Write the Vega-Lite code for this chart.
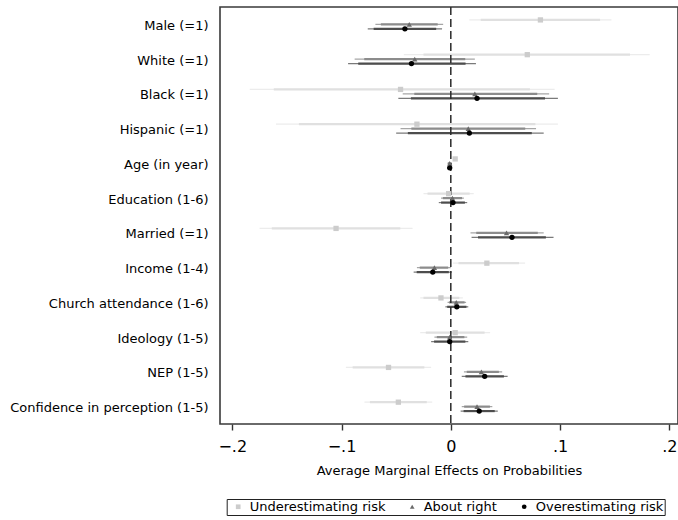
{
  "$schema": "https://vega.github.io/schema/vega-lite/v6.json",
  "width": 458,
  "height": 417,
  "autosize": "none",
  "padding": {"left": 220, "top": 7, "right": 0, "bottom": 96},
  "background": "white",
  "config": {
    "view": {"stroke": "#3a3a3a", "strokeWidth": 1.6},
    "font": "DejaVu Sans",
    "legend": {
      "orient": "none",
      "legendX": 6.7,
      "legendY": 492,
      "direction": "horizontal",
      "title": null,
      "strokeColor": "#222",
      "fillColor": "white",
      "padding": 1,
      "labelFont": "DejaVu Sans",
      "labelFontSize": 13,
      "labelColor": "#000",
      "symbolSize": 22,
      "symbolStrokeWidth": 0,
      "symbolOffset": 4,
      "labelOffset": 5,
      "columnPadding": 16
    }
  },
  "data": {
    "values": [
      {"var": "Male (=1)", "series": "Underestimating risk", "est": 0.082, "lo95": 0.017, "hi95": 0.147, "lo90": 0.0274, "hi90": 0.1366},
      {"var": "Male (=1)", "series": "About right", "est": -0.038, "lo95": -0.069, "hi95": -0.007, "lo90": -0.064, "hi90": -0.012},
      {"var": "Male (=1)", "series": "Overestimating risk", "est": -0.042, "lo95": -0.076, "hi95": -0.008, "lo90": -0.0706, "hi90": -0.0134},
      {"var": "White (=1)", "series": "Underestimating risk", "est": 0.070, "lo95": -0.043, "hi95": 0.182, "lo90": -0.025, "hi90": 0.164},
      {"var": "White (=1)", "series": "About right", "est": -0.033, "lo95": -0.088, "hi95": 0.022, "lo90": -0.0792, "hi90": 0.0132},
      {"var": "White (=1)", "series": "Overestimating risk", "est": -0.036, "lo95": -0.094, "hi95": 0.023, "lo90": -0.0847, "hi90": 0.0135},
      {"var": "Black (=1)", "series": "Underestimating risk", "est": -0.046, "lo95": -0.184, "hi95": 0.095, "lo90": -0.162, "hi90": 0.0724},
      {"var": "Black (=1)", "series": "About right", "est": 0.022, "lo95": -0.044, "hi95": 0.090, "lo90": -0.0334, "hi90": 0.0791},
      {"var": "Black (=1)", "series": "Overestimating risk", "est": 0.024, "lo95": -0.048, "hi95": 0.098, "lo90": -0.0365, "hi90": 0.0862},
      {"var": "Hispanic (=1)", "series": "Underestimating risk", "est": -0.031, "lo95": -0.160, "hi95": 0.098, "lo90": -0.139, "hi90": 0.0774},
      {"var": "Hispanic (=1)", "series": "About right", "est": 0.016, "lo95": -0.046, "hi95": 0.078, "lo90": -0.0361, "hi90": 0.0681},
      {"var": "Hispanic (=1)", "series": "Overestimating risk", "est": 0.017, "lo95": -0.050, "hi95": 0.085, "lo90": -0.0393, "hi90": 0.0741},
      {"var": "Age (in year)", "series": "Underestimating risk", "est": 0.004, "lo95": 0.002, "hi95": 0.006, "lo90": 0.0023, "hi90": 0.0057},
      {"var": "Age (in year)", "series": "About right", "est": -0.001, "lo95": -0.003, "hi95": 0.001, "lo90": -0.0027, "hi90": 0.0007},
      {"var": "Age (in year)", "series": "Overestimating risk", "est": -0.001, "lo95": -0.003, "hi95": 0.001, "lo90": -0.0027, "hi90": 0.0007},
      {"var": "Education (1-6)", "series": "Underestimating risk", "est": -0.002, "lo95": -0.025, "hi95": 0.021, "lo90": -0.0213, "hi90": 0.0173},
      {"var": "Education (1-6)", "series": "About right", "est": 0.0015, "lo95": -0.009, "hi95": 0.012, "lo90": -0.0073, "hi90": 0.0103},
      {"var": "Education (1-6)", "series": "Overestimating risk", "est": 0.002, "lo95": -0.011, "hi95": 0.015, "lo90": -0.0089, "hi90": 0.0129},
      {"var": "Married (=1)", "series": "Underestimating risk", "est": -0.105, "lo95": -0.175, "hi95": -0.035, "lo90": -0.1638, "hi90": -0.0462},
      {"var": "Married (=1)", "series": "About right", "est": 0.051, "lo95": 0.018, "hi95": 0.085, "lo90": 0.0233, "hi90": 0.0796},
      {"var": "Married (=1)", "series": "Overestimating risk", "est": 0.056, "lo95": 0.019, "hi95": 0.094, "lo90": 0.0249, "hi90": 0.087},
      {"var": "Income (1-4)", "series": "Underestimating risk", "est": 0.033, "lo95": 0.002, "hi95": 0.068, "lo90": 0.007, "hi90": 0.0624},
      {"var": "Income (1-4)", "series": "About right", "est": -0.015, "lo95": -0.031, "hi95": 0.000, "lo90": -0.0284, "hi90": -0.0024},
      {"var": "Income (1-4)", "series": "Overestimating risk", "est": -0.0165, "lo95": -0.034, "hi95": 0.001, "lo90": -0.0312, "hi90": -0.0018},
      {"var": "Church attendance (1-6)", "series": "Underestimating risk", "est": -0.009, "lo95": -0.028, "hi95": 0.011, "lo90": -0.025, "hi90": 0.0078},
      {"var": "Church attendance (1-6)", "series": "About right", "est": 0.005, "lo95": -0.003, "hi95": 0.014, "lo90": -0.0017, "hi90": 0.0126},
      {"var": "Church attendance (1-6)", "series": "Overestimating risk", "est": 0.0055, "lo95": -0.005, "hi95": 0.016, "lo90": -0.0033, "hi90": 0.0143},
      {"var": "Ideology (1-5)", "series": "Underestimating risk", "est": 0.004, "lo95": -0.028, "hi95": 0.036, "lo90": -0.0229, "hi90": 0.0309},
      {"var": "Ideology (1-5)", "series": "About right", "est": -0.001, "lo95": -0.015, "hi95": 0.015, "lo90": -0.0128, "hi90": 0.0124},
      {"var": "Ideology (1-5)", "series": "Overestimating risk", "est": -0.001, "lo95": -0.018, "hi95": 0.016, "lo90": -0.0153, "hi90": 0.0133},
      {"var": "NEP (1-5)", "series": "Underestimating risk", "est": -0.057, "lo95": -0.096, "hi95": -0.018, "lo90": -0.0898, "hi90": -0.0242},
      {"var": "NEP (1-5)", "series": "About right", "est": 0.028, "lo95": 0.012, "hi95": 0.047, "lo90": 0.0146, "hi90": 0.044},
      {"var": "NEP (1-5)", "series": "Overestimating risk", "est": 0.031, "lo95": 0.010, "hi95": 0.052, "lo90": 0.0134, "hi90": 0.0486},
      {"var": "Confidence in perception (1-5)", "series": "Underestimating risk", "est": -0.048, "lo95": -0.079, "hi95": -0.017, "lo90": -0.074, "hi90": -0.022},
      {"var": "Confidence in perception (1-5)", "series": "About right", "est": 0.024, "lo95": 0.010, "hi95": 0.038, "lo90": 0.0122, "hi90": 0.0358},
      {"var": "Confidence in perception (1-5)", "series": "Overestimating risk", "est": 0.026, "lo95": 0.009, "hi95": 0.043, "lo90": 0.0117, "hi90": 0.0402}
    ]
  },
  "encoding": {
    "y": {
      "field": "var",
      "type": "nominal",
      "sort": null,
      "scale": {"type": "band", "paddingInner": 0, "paddingOuter": 0},
      "axis": {
        "title": null,
        "domain": false,
        "ticks": false,
        "labelFont": "DejaVu Sans",
        "labelFontSize": 13,
        "labelColor": "#000",
        "labelPadding": 12,
        "labelOffset": 1.5,
        "labelLimit": 300
      }
    },
    "yOffset": {
      "field": "series",
      "type": "nominal",
      "scale": {"domain": ["Underestimating risk", "About right", "Overestimating risk"], "range": [10.7, 24.05], "paddingInner": 0, "paddingOuter": 0}
    }
  },
  "layer": [
    {
      "mark": {"type": "rule", "strokeWidth": 1.2},
      "encoding": {
        "x": {
          "field": "lo95",
          "type": "quantitative",
          "scale": {"domain": [-0.2112, 0.2079], "nice": false, "zero": false},
          "axis": {
            "values": [-0.2, -0.1, 0, 0.1, 0.2],
            "labelExpr": "datum.value == 0 ? '0' : replace(format(datum.value, '.1f'), '0.', '.')",
            "grid": false,
            "domain": false,
            "tickSize": 6,
            "tickColor": "#333",
            "tickWidth": 1.4,
            "labelFont": "DejaVu Sans",
            "labelFontSize": 16,
            "labelColor": "#000",
            "labelBaseline": "alphabetic",
            "labelPadding": 21.7,
            "labelFlush": false,
            "title": "Average Marginal Effects on Probabilities",
            "titleFont": "DejaVu Sans",
            "titleFontSize": 13,
            "titleFontWeight": "normal",
            "titleColor": "#000",
            "titleBaseline": "alphabetic",
            "titleY": 50.3
          }
        },
        "x2": {"field": "hi95"},
        "stroke": {
          "field": "series",
          "type": "nominal",
          "scale": {"domain": ["Underestimating risk", "About right", "Overestimating risk"], "range": ["#ececec", "#a6a6a6", "#7a7a7a"]},
          "legend": null
        }
      }
    },
    {
      "mark": {"type": "rule", "strokeWidth": 2.2},
      "encoding": {
        "x": {"field": "lo90", "type": "quantitative"},
        "x2": {"field": "hi90"},
        "stroke": {
          "field": "series",
          "type": "nominal",
          "scale": {"domain": ["Underestimating risk", "About right", "Overestimating risk"], "range": ["#e0e0e0", "#8c8c8c", "#4d4d4d"]},
          "legend": null
        }
      }
    },
    {
      "data": {"values": [{"ref": 0}]},
      "mark": {"type": "rule", "color": "#2a2a2a", "strokeWidth": 1.5, "strokeDash": [8, 4]},
      "encoding": {
        "x": {"field": "ref", "type": "quantitative"},
        "y": null,
        "yOffset": null
      }
    },
    {
      "mark": {"type": "point", "filled": true, "opacity": 1, "strokeWidth": 0, "size": 28},
      "encoding": {
        "x": {"field": "est", "type": "quantitative"},
        "color": {
          "field": "series",
          "type": "nominal",
          "scale": {"domain": ["Underestimating risk", "About right", "Overestimating risk"], "range": ["#cccccc", "#6a6a6a", "#000000"]}
        },
        "shape": {
          "field": "series",
          "type": "nominal",
          "scale": {"domain": ["Underestimating risk", "About right", "Overestimating risk"], "range": ["square", "triangle-up", "circle"]}
        }
      }
    }
  ],
  "resolve": {"scale": {"stroke": "independent"}}
}
